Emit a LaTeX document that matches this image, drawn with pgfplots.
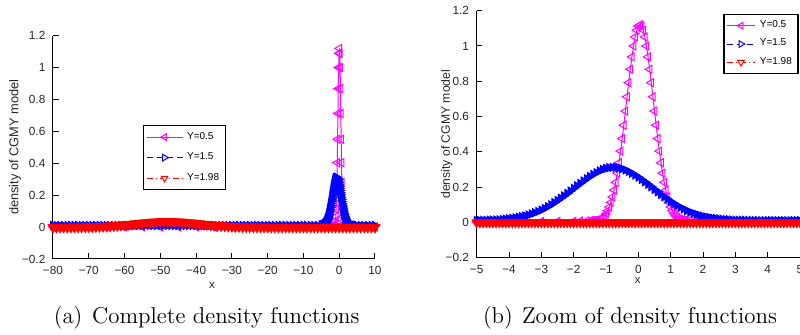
\documentclass[border=0pt]{standalone}
\usepackage{fontspec}
\usepackage{pgfplots}
\usepackage{pgfplotstable}
\pgfplotsset{compat=1.18}
\newfontfamily\arial{Liberation Sans}
\definecolor{mmag}{rgb}{1,0,1}
\definecolor{mblue}{rgb}{0,0,1}
\definecolor{mred}{rgb}{1,0,0}

% Y=0.5, fine sampling (zoom)
\pgfplotstableread{
x y
-5.0 0.002
-4.5 0.002
-4.0 0.003
-3.5 0.004
-3.0 0.005
-2.5 0.006
-2.0 0.007
-1.8 0.008
-1.6 0.009
-1.5 0.009
-1.45 0.010
-1.4 0.010
-1.35 0.011
-1.3 0.012
-1.25 0.014
-1.2 0.017
-1.15 0.021
-1.1 0.028
-1.05 0.037
-1.0 0.049
-0.95 0.066
-0.9 0.087
-0.85 0.113
-0.8 0.144
-0.75 0.183
-0.7 0.227
-0.65 0.279
-0.6 0.338
-0.55 0.404
-0.5 0.475
-0.45 0.551
-0.4 0.631
-0.35 0.712
-0.3 0.792
-0.25 0.868
-0.2 0.938
-0.15 1.000
-0.1 1.051
-0.05 1.089
0.0 1.112
0.05 1.120
0.1 1.112
0.15 1.089
0.2 1.051
0.25 1.000
0.3 0.938
0.35 0.868
0.4 0.792
0.45 0.712
0.5 0.631
0.55 0.551
0.6 0.475
0.65 0.404
0.7 0.338
0.75 0.279
0.8 0.227
0.85 0.183
0.9 0.144
0.95 0.113
1.0 0.087
1.05 0.066
1.1 0.049
1.15 0.037
1.2 0.028
1.25 0.021
1.3 0.017
1.35 0.014
1.4 0.012
1.45 0.011
1.5 0.010
1.6 0.009
1.8 0.008
2.0 0.007
2.5 0.006
3.0 0.005
3.5 0.004
4.0 0.003
4.5 0.002
5.0 0.002
}\magzoom

% Y=0.5, coarse sampling (complete)
\pgfplotstableread{
x y
-80 0.001
-75 0.001
-70 0.001
-65 0.001
-60 0.001
-55 0.001
-50 0.001
-45 0.001
-40 0.001
-35 0.001
-30 0.001
-25 0.001
-20 0.001
-15 0.001
-10 0.002
-5 0.002
-3 0.005
-2 0.007
-1.45 0.010
-1.35 0.011
-1.25 0.014
-1.15 0.021
-1.05 0.037
-0.95 0.066
-0.85 0.113
-0.75 0.183
-0.65 0.279
-0.55 0.404
-0.45 0.551
-0.35 0.712
-0.25 0.868
-0.15 1.000
-0.05 1.089
0.05 1.120
0.15 1.089
0.25 1.000
0.35 0.868
0.45 0.712
0.55 0.551
0.65 0.404
0.75 0.279
0.85 0.183
0.95 0.113
1.05 0.066
1.15 0.037
1.25 0.021
1.35 0.014
1.45 0.011
1.55 0.010
2 0.007
3 0.005
5 0.002
10 0.001
}\magfull

% Y=1.5
\pgfplotstableread{
x y
-5.0 0.011
-4.9 0.011
-4.8 0.012
-4.7 0.012
-4.6 0.013
-4.5 0.013
-4.4 0.014
-4.3 0.015
-4.2 0.017
-4.1 0.018
-4.0 0.020
-3.9 0.023
-3.8 0.026
-3.7 0.029
-3.6 0.033
-3.5 0.037
-3.4 0.042
-3.3 0.048
-3.2 0.055
-3.1 0.062
-3.0 0.070
-2.9 0.079
-2.8 0.089
-2.7 0.100
-2.6 0.112
-2.5 0.124
-2.4 0.137
-2.3 0.150
-2.2 0.164
-2.1 0.178
-2.0 0.193
-1.9 0.207
-1.8 0.221
-1.7 0.235
-1.6 0.248
-1.5 0.260
-1.4 0.272
-1.3 0.282
-1.2 0.292
-1.1 0.300
-1.0 0.306
-0.9 0.310
-0.8 0.312
-0.7 0.312
-0.6 0.309
-0.5 0.304
-0.4 0.297
-0.3 0.289
-0.2 0.279
-0.1 0.268
0.0 0.256
0.1 0.243
0.2 0.230
0.3 0.216
0.4 0.202
0.5 0.187
0.6 0.173
0.7 0.159
0.8 0.145
0.9 0.132
1.0 0.119
1.1 0.107
1.2 0.096
1.3 0.085
1.4 0.076
1.5 0.067
1.6 0.059
1.7 0.052
1.8 0.046
1.9 0.040
2.0 0.035
2.1 0.031
2.2 0.028
2.3 0.024
2.4 0.022
2.5 0.020
2.6 0.018
2.7 0.016
2.8 0.015
2.9 0.014
3.0 0.013
3.1 0.012
3.2 0.012
3.3 0.011
3.4 0.011
3.5 0.011
3.6 0.010
3.7 0.010
3.8 0.010
3.9 0.010
4.0 0.010
4.1 0.010
4.2 0.010
4.3 0.010
4.4 0.010
4.5 0.010
4.6 0.010
4.7 0.010
4.8 0.010
4.9 0.010
5.0 0.010
}\bluezoom

% Y=1.5 flat parts of the complete range
\pgfplotstableread{
x y
-80 0.010
-79 0.010
-78 0.010
-77 0.010
-76 0.010
-75 0.010
-74 0.010
-73 0.010
-72 0.010
-71 0.010
-70 0.010
-69 0.010
-68 0.010
-67 0.010
-66 0.010
-65 0.010
-64 0.010
-63 0.010
-62 0.010
-61 0.010
-60 0.010
-59 0.010
-58 0.010
-57 0.010
-56 0.010
-55 0.010
-54 0.010
-53 0.010
-52 0.010
-51 0.010
-50 0.010
-49 0.010
-48 0.010
-47 0.010
-46 0.010
-45 0.010
-44 0.010
-43 0.010
-42 0.010
-41 0.010
-40 0.010
-39 0.010
-38 0.010
-37 0.010
-36 0.010
-35 0.010
-34 0.010
-33 0.010
-32 0.010
-31 0.010
-30 0.010
-29 0.010
-28 0.010
-27 0.010
-26 0.010
-25 0.010
-24 0.010
-23 0.010
-22 0.010
-21 0.010
-20 0.010
-19 0.010
-18 0.010
-17 0.010
-16 0.010
-15 0.010
-14 0.010
-13 0.010
-12 0.010
-11 0.010
-10 0.010
-9 0.010
-8 0.010
-7 0.010
-6 0.010
}\blueflatL
\pgfplotstableread{
x y
6 0.010
7 0.010
8 0.010
9 0.010
10 0.010
}\blueflatR

% Y=1.98 complete range
\pgfplotstableread{
x y
-80 0.000
-79 0.000
-78 0.000
-77 0.000
-76 0.000
-75 0.0004
-74 0.0005
-73 0.0007
-72 0.0010
-71 0.0013
-70 0.0018
-69 0.0023
-68 0.0030
-67 0.0038
-66 0.0047
-65 0.0059
-64 0.0072
-63 0.0087
-62 0.0104
-61 0.0123
-60 0.0144
-59 0.0166
-58 0.0189
-57 0.0212
-56 0.0236
-55 0.0259
-54 0.0280
-53 0.0300
-52 0.0317
-51 0.0331
-50 0.0341
-49 0.0348
-48 0.0350
-47 0.0348
-46 0.0341
-45 0.0331
-44 0.0317
-43 0.0300
-42 0.0280
-41 0.0259
-40 0.0236
-39 0.0212
-38 0.0189
-37 0.0166
-36 0.0144
-35 0.0123
-34 0.0104
-33 0.0087
-32 0.0072
-31 0.0059
-30 0.0047
-29 0.0038
-28 0.0030
-27 0.0023
-26 0.0018
-25 0.0013
-24 0.0010
-23 0.0007
-22 0.0005
-21 0.0004
-20 0.000
-19 0.000
-18 0.000
-17 0.000
-16 0.000
-15 0.000
-14 0.000
-13 0.000
-12 0.000
-11 0.000
-10 0.000
-9 0.000
-8 0.000
-7 0.000
-6 0.000
-5 0.000
-4 0.000
-3 0.000
-2 0.000
-1 0.000
0 0.000
1 0.000
2 0.000
3 0.000
4 0.000
5 0.000
6 0.000
7 0.000
8 0.000
9 0.000
10 0.000
}\redfull

% Y=1.98 zoom
\pgfplotstableread{
x y
-5.0 0
-4.9 0
-4.8 0
-4.7 0
-4.6 0
-4.5 0
-4.4 0
-4.3 0
-4.2 0
-4.1 0
-4.0 0
-3.9 0
-3.8 0
-3.7 0
-3.6 0
-3.5 0
-3.4 0
-3.3 0
-3.2 0
-3.1 0
-3.0 0
-2.9 0
-2.8 0
-2.7 0
-2.6 0
-2.5 0
-2.4 0
-2.3 0
-2.2 0
-2.1 0
-2.0 0
-1.9 0
-1.8 0
-1.7 0
-1.6 0
-1.5 0
-1.4 0
-1.3 0
-1.2 0
-1.1 0
-1.0 0
-0.9 0
-0.8 0
-0.7 0
-0.6 0
-0.5 0
-0.4 0
-0.3 0
-0.2 0
-0.1 0
0.0 0
0.1 0
0.2 0
0.3 0
0.4 0
0.5 0
0.6 0
0.7 0
0.8 0
0.9 0
1.0 0
1.1 0
1.2 0
1.3 0
1.4 0
1.5 0
1.6 0
1.7 0
1.8 0
1.9 0
2.0 0
2.1 0
2.2 0
2.3 0
2.4 0
2.5 0
2.6 0
2.7 0
2.8 0
2.9 0
3.0 0
3.1 0
3.2 0
3.3 0
3.4 0
3.5 0
3.6 0
3.7 0
3.8 0
3.9 0
4.0 0
4.1 0
4.2 0
4.3 0
4.4 0
4.5 0
4.6 0
4.7 0
4.8 0
4.9 0
5.0 0
}\redzoom

\pgfplotsset{
  matlab/.style={
    scale only axis,
    anchor=south west,
    axis x line*=bottom, axis y line*=left,
    tick align=inside,
    axis line style={line width=0.5pt, black},
    every tick/.style={black, line width=0.5pt},
    major tick length=2.8pt,
    ymin=-0.2, ymax=1.2,
    ytick={-0.2,0,0.2,0.4,0.6,0.8,1,1.2},
    yticklabels={−0.2,0,0.2,0.4,0.6,0.8,1,1.2},
    tick label style={font=\arial\fontsize{5.9}{6.5}\selectfont, text=black!85},
    xticklabel style={yshift=-0.3pt},
    yticklabel style={xshift=-0.3pt},
    legend cell align=left,
    legend style={draw=black, line width=0.7pt, fill=white,
      font=\arial\fontsize{5}{5.5}\selectfont, anchor=north west},
  },
  magsty/.style={color=mmag, solid, line width=0.5pt, mark=triangle,
    mark options={solid, rotate=90}},
  bluesty/.style={color=mblue, line width=0.5pt, dash pattern=on 3pt off 2pt,
    mark=triangle*, mark options={solid, rotate=-90, fill=mblue}},
  redsty/.style={color=mred, line width=0.5pt,
    dash pattern=on 3pt off 1.5pt on 0.6pt off 1.5pt,
    mark=triangle*, mark options={solid, rotate=180, fill=mred}},
}

\begin{document}
\begin{tikzpicture}
\useasboundingbox (0,0) rectangle (400pt,167.5pt);

% (a) complete
\begin{axis}[matlab,
  at={(26.5pt,38pt)}, width=161pt, height=111.65pt,
  xmin=-80, xmax=10,
  xtick={-80,-70,-60,-50,-40,-30,-20,-10,0,10},
  xticklabels={−80,−70,−60,−50,−40,−30,−20,−10,0,10},
  xlabel={x}, ylabel={density of CGMY model},
  every axis x label/.style={at={(axis description cs:0.494,-0.118)}, anchor=center,
    font=\arial\fontsize{5.8}{6}\selectfont, text=black!85},
  every axis y label/.style={at={(axis description cs:-0.118,0.5)}, rotate=90, anchor=center,
    font=\arial\fontsize{6.4}{7}\selectfont, text=black!85},
  mark size=2.3pt,
  legend style={at={(axis description cs:0.2795,0.600)}, inner sep=1.2pt,
    row sep=1.3pt},
  legend image code/.code={\draw[mark repeat=2,mark phase=2,#1,
    every mark/.append style={fill=white}, mark size=1.9pt]
    plot coordinates {(0pt,0pt) (9pt,0pt) (18pt,0pt)};},
]
\addplot[magsty] table[x=x,y=y] {\magfull};
\addlegendentry{Y=0.5}
\addplot[bluesty] table[x=x,y=y] {\bluezoom};
\addlegendentry{Y=1.5}
\addplot[bluesty, forget plot] table[x=x,y=y] {\blueflatL};
\addplot[bluesty, forget plot] table[x=x,y=y] {\blueflatR};
\addplot[redsty, mark size=2.8pt] table[x=x,y=y] {\redfull};
\addlegendentry{Y=1.98}
\end{axis}

% (b) zoom
\begin{axis}[matlab,
  at={(238.35pt,38.65pt)}, width=161.65pt, height=123.5pt,
  xmin=-5, xmax=5,
  xtick={-5,-4,-3,-2,-1,0,1,2,3,4,5},
  xticklabels={−5,−4,−3,−2,−1,0,1,2,3,4,5},
  xlabel={x}, ylabel={density of CGMY model},
  every axis x label/.style={at={(axis description cs:0.498,-0.092)}, anchor=center,
    font=\arial\fontsize{5.6}{6}\selectfont, text=black!85},
  every axis y label/.style={at={(axis description cs:-0.0928,0.5)}, rotate=90, anchor=center,
    font=\arial\fontsize{6.1}{7}\selectfont, text=black!85},
  mark size=2.3pt,
  legend style={at={(axis description cs:0.763,0.9866)}, inner sep=1pt,
    row sep=0.2pt},
  legend image code/.code={\draw[mark repeat=2,mark phase=2,#1,
    every mark/.append style={fill=white}, mark size=1.9pt]
    plot coordinates {(0pt,0pt) (7.2pt,0pt) (14.4pt,0pt)};},
]
\addplot[magsty] table[x=x,y=y] {\magzoom};
\addlegendentry{Y=0.5}
\addplot[bluesty] table[x=x,y=y] {\bluezoom};
\addlegendentry{Y=1.5}
\addplot[redsty, mark size=2.6pt] table[x=x,y=y] {\redzoom};
\addlegendentry{Y=1.98}
\end{axis}

\node[anchor=base west, font=\fontsize{11.45}{13}\selectfont, inner sep=0pt]
  at (26.7pt,5.85pt) {(a)};
\node[anchor=base west, font=\fontsize{11.45}{13}\selectfont, inner sep=0pt]
  at (45.85pt,5.85pt) {Complete density functions};
\node[anchor=base west, font=\fontsize{11.45}{13}\selectfont, inner sep=0pt]
  at (241.3pt,5.85pt) {(b)};
\node[anchor=base west, font=\fontsize{11.45}{13}\selectfont, inner sep=0pt]
  at (260.8pt,5.85pt) {Zoom of density functions};
\end{tikzpicture}
\end{document}
